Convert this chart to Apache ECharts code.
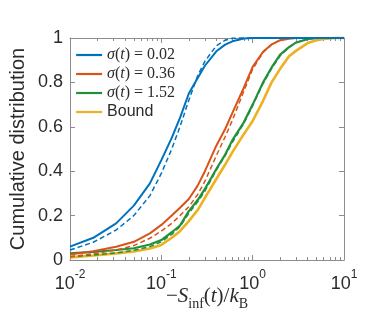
<!DOCTYPE html>
<html>
<head>
<meta charset="utf-8">
<script src="https://cdn.jsdelivr.net/npm/echarts@6/dist/echarts.min.js"></script>
<style>
  html, body { margin: 0; padding: 0; background: #fff; }
  #chart { width: 382px; height: 328px; }
</style>
</head>
<body>
<div id="chart"></div>
<script>
const xVals = [0.01, 0.018, 0.032, 0.05, 0.075, 0.1, 0.13, 0.16, 0.2, 0.25, 0.3, 0.4, 0.5, 0.6, 0.8, 1.0, 1.3, 1.6, 2.0, 2.5, 3, 4, 5, 6, 8, 10];

const sigmaLabels = ['0.02', '0.36', '1.52'];

const blueSolid   = [0.06, 0.10, 0.165, 0.245, 0.345, 0.45, 0.55, 0.64, 0.75, 0.82, 0.875, 0.94, 0.97, 0.985, 0.998, 1, 1, 1, 1, 1, 1, 1, 1, 1, 1, 1];
const blueDashed  = [0.045, 0.08, 0.135, 0.2, 0.29, 0.39, 0.5, 0.6, 0.72, 0.83, 0.895, 0.965, 0.99, 0.999, 1, 1, 1, 1, 1, 1, 1, 1, 1, 1, 1, 1];
const orangeSolid = [0.025, 0.04, 0.06, 0.082, 0.12, 0.158, 0.2, 0.235, 0.275, 0.335, 0.40, 0.515, 0.59, 0.663, 0.776, 0.87, 0.938, 0.97, 0.99, 0.997, 1, 1, 1, 1, 1, 1];
const orangeDashed= [0.015, 0.028, 0.045, 0.065, 0.098, 0.13, 0.165, 0.2, 0.24, 0.295, 0.355, 0.47, 0.555, 0.63, 0.76, 0.86, 0.935, 0.97, 0.99, 0.998, 1, 1, 1, 1, 1, 1];
const greenSolid  = [0.03, 0.037, 0.045, 0.053, 0.07, 0.09, 0.125, 0.155, 0.22, 0.27, 0.32, 0.41, 0.475, 0.54, 0.62, 0.70, 0.80, 0.865, 0.925, 0.959, 0.98, 0.995, 1, 1, 1, 1];
const greenDashed = [0.015, 0.022, 0.032, 0.044, 0.06, 0.082, 0.115, 0.15, 0.21, 0.262, 0.31, 0.405, 0.47, 0.53, 0.615, 0.695, 0.795, 0.86, 0.92, 0.957, 0.98, 0.995, 1, 1, 1, 1];
const boundVals   = [0.012, 0.02, 0.03, 0.038, 0.052, 0.068, 0.10, 0.13, 0.175, 0.225, 0.28, 0.365, 0.43, 0.486, 0.567, 0.626, 0.717, 0.798, 0.861, 0.918, 0.943, 0.977, 0.99, 0.996, 1, 1];

const xTicks = [0.01, 0.1, 1, 10];
const xMinorTicks = [];
[0.01, 0.1, 1].forEach(function (d) {
  for (let k = 2; k <= 9; k++) xMinorTicks.push(+(d * k).toPrecision(3));
});

const blue = '#0072BD', orange = '#D95319', green = '#21903b', yellow = '#EDB120';
const axisColor = '#8c8c8c';
const textColor = '#2b2b2b';

function pairs(ys) {
  return xVals.map(function (x, i) { return [x, ys[i]]; });
}

function line(name, ys, color, width, dashed) {
  return {
    name: name,
    type: 'line',
    data: pairs(ys),
    symbol: 'none',
    smooth: false,
    clip: false,
    lineStyle: { color: color, width: width, type: dashed ? [5, 3] : 'solid' },
    itemStyle: { color: color }
  };
}

const names = sigmaLabels.map(function (s) { return 'σ(t) = ' + s; }).concat(['Bound']);

const chart = echarts.init(document.getElementById('chart'), null, { renderer: 'canvas' });

const logAxis = { type: 'log', logBase: 10, min: 0.01, max: 10, splitLine: { show: false } };

const option = {
  backgroundColor: '#fff',
  animation: false,
  grid: { left: 70, right: 38, top: 38, bottom: 68 },
  legend: {
    data: names,
    orient: 'vertical',
    left: 75,
    top: 47,
    padding: 0,
    itemWidth: 26,
    itemHeight: 14,
    itemGap: 3,
    itemStyle: { opacity: 0 },
    lineStyle: { width: 2.2 },
    formatter: function (name) {
      if (name === 'Bound') return '{b|Bound}';
      return '{i|σ}{r|(}{i|t}{r|) = ' + name.split('= ')[1] + '}';
    },
    textStyle: {
      color: textColor,
      rich: {
        i: { fontFamily: 'Liberation Serif', fontStyle: 'italic', fontSize: 16, color: textColor },
        r: { fontFamily: 'Liberation Serif', fontSize: 16, color: textColor },
        b: { fontFamily: 'Liberation Sans', fontSize: 16, color: textColor }
      }
    }
  },
  xAxis: [
    Object.assign({}, logAxis, {
      position: 'bottom',
      axisLine: { show: true, lineStyle: { color: axisColor, width: 1 } },
      axisTick: { show: true, inside: true, length: 5, lineStyle: { color: axisColor } },
      minorTick: { show: false },
      axisLabel: {
        margin: 9,
        formatter: function (v) {
          return '{b|10}{e|' + Math.round(Math.log10(v)) + '}';
        },
        rich: {
          b: { fontFamily: 'Liberation Sans', fontSize: 18, color: textColor, lineHeight: 24, verticalAlign: 'bottom' },
          e: { fontFamily: 'Liberation Sans', fontSize: 12, color: textColor, lineHeight: 14, verticalAlign: 'top' }
        }
      },
      name: '{m|−}{i|S}{s|inf}{r|(}{i|t}{r|)/}{i|k}{s|B}',
      nameLocation: 'middle',
      nameGap: 21,
      nameMoveOverlap: false,
      nameTextStyle: {
        rich: {
          m: { fontFamily: 'Liberation Serif', fontSize: 21, color: textColor, lineHeight: 30, verticalAlign: 'middle' },
          i: { fontFamily: 'Liberation Serif', fontStyle: 'italic', fontSize: 21, color: textColor, lineHeight: 30, verticalAlign: 'middle' },
          r: { fontFamily: 'Liberation Serif', fontSize: 21, color: textColor, lineHeight: 30, verticalAlign: 'middle' },
          s: { fontFamily: 'Liberation Serif', fontSize: 14, color: textColor, lineHeight: 18, verticalAlign: 'bottom' }
        }
      }
    }),
    Object.assign({}, logAxis, {
      position: 'bottom',
      axisLine: { show: false },
      axisTick: { show: true, inside: true, length: 3, customValues: xMinorTicks, lineStyle: { color: axisColor } },
      axisLabel: { show: false }
    }),
    Object.assign({}, logAxis, {
      position: 'top',
      axisLine: { show: true, lineStyle: { color: axisColor, width: 1 } },
      axisTick: { show: true, inside: true, length: 5, lineStyle: { color: axisColor } },
      axisLabel: { show: false }
    }),
    Object.assign({}, logAxis, {
      position: 'top',
      axisLine: { show: false },
      axisTick: { show: true, inside: true, length: 3, customValues: xMinorTicks, lineStyle: { color: axisColor } },
      axisLabel: { show: false }
    })
  ],
  yAxis: [
    {
      type: 'value',
      position: 'left',
      min: 0,
      max: 1,
      interval: 0.2,
      splitLine: { show: false },
      axisLine: { show: true, lineStyle: { color: axisColor, width: 1 } },
      axisTick: { show: true, inside: true, length: 5, lineStyle: { color: axisColor } },
      axisLabel: { margin: 7, fontFamily: 'Liberation Sans', fontSize: 18, color: textColor },
      name: 'Cumulative distribution',
      nameLocation: 'middle',
      nameGap: 42,
      nameMoveOverlap: false,
      nameTextStyle: { fontFamily: 'Liberation Sans', fontSize: 20, color: textColor }
    },
    {
      type: 'value',
      position: 'right',
      min: 0,
      max: 1,
      interval: 0.2,
      splitLine: { show: false },
      axisLine: { show: true, lineStyle: { color: axisColor, width: 1 } },
      axisTick: { show: true, inside: true, length: 5, lineStyle: { color: axisColor } },
      axisLabel: { show: false }
    }
  ],
  series: [
    line('Bound', boundVals, yellow, 2.6, false),
    line(names[2], greenSolid, green, 2.2, false),
    line(names[2] + ' (dashed)', greenDashed, green, 1.5, true),
    line(names[1], orangeSolid, orange, 2, false),
    line(names[1] + ' (dashed)', orangeDashed, orange, 1.5, true),
    line(names[0], blueSolid, blue, 2, false),
    line(names[0] + ' (dashed)', blueDashed, blue, 1.5, true)
  ]
};

chart.setOption(option);
</script>
</body>
</html>
